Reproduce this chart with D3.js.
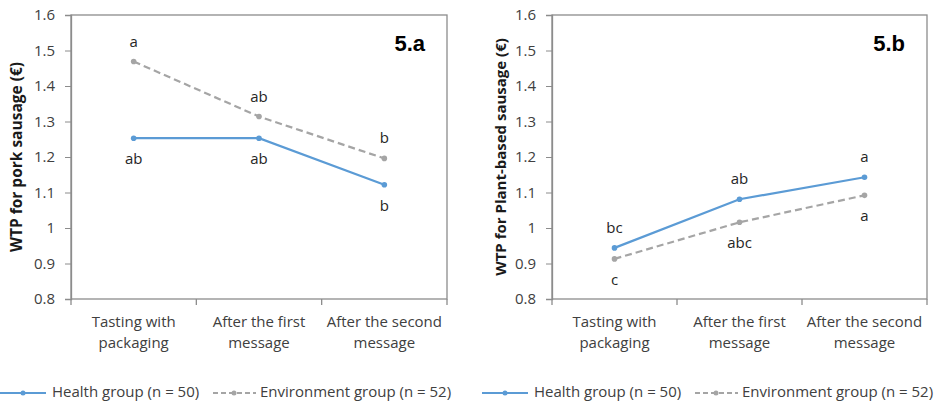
<!DOCTYPE html>
<html>
<head>
<meta charset="utf-8">
<script src="https://cdn.jsdelivr.net/npm/d3@7"></script>
<style>
  body { margin: 0; background: #fff; }
  text { font-family: "Open Sans", "Liberation Sans", sans-serif; }
</style>
</head>
<body>
<svg id="chart" width="936" height="407"></svg>
<script>
// categories (wrapped in two lines like the original)
const categories = [
    ["Tasting with", "packaging"],
    ["After the first", "message"],
    ["After the second", "message"]
];
const yTicks = [0.8, 0.9, 1, 1.1, 1.2, 1.3, 1.4, 1.5, 1.6];

// 5.a pork sausage
const porkHealth = [1.253, 1.253, 1.122];
const porkEnv = [1.469, 1.314, 1.196];
const porkHealthLetters = ["ab", "ab", "b"];
const porkEnvLetters = ["a", "ab", "b"];

// 5.b plant-based sausage
const plantHealth = [0.944, 1.081, 1.143];
const plantEnv = [0.913, 1.016, 1.092];
const plantHealthLetters = ["bc", "ab", "a"];
const plantEnvLetters = ["c", "abc", "a"];

const legendLabels = ["Health group (n = 50)", "Environment group (n = 52)"];

const blue = "#5b9bd5", grey = "#a5a5a5", axisCol = "#8c8c8c", txt = "#404040";

const svg = d3.select("#chart");

function panel(opts) {
    const g = svg.append("g");
    const x = d3.scaleBand().domain(d3.range(categories.length)).range([opts.x0, opts.x1]).padding(0);
    const y = d3.scaleLinear().domain([0.8, 1.6]).range([299, 15]);

    // plot frame
    g.append("rect")
        .attr("x", opts.x0).attr("y", y(1.6))
        .attr("width", opts.x1 - opts.x0).attr("height", y(0.8) - y(1.6))
        .attr("fill", "none").attr("stroke", axisCol).attr("stroke-width", 1.3);

    // y axis
    const yAxis = g.append("g")
        .attr("transform", `translate(${opts.x0},0)`)
        .call(d3.axisLeft(y).tickValues(yTicks).tickSize(6).tickPadding(10).tickFormat(d3.format("")));
    yAxis.select(".domain").attr("stroke", axisCol).attr("stroke-width", 1.3);
    yAxis.selectAll(".tick line").attr("stroke", axisCol);
    yAxis.selectAll(".tick text").attr("fill", txt).style("font-size", "15px")
        .style("font-family", "'Open Sans', sans-serif");

    // x axis: boundary ticks between categories
    const bounds = d3.range(categories.length + 1).map(i => opts.x0 + i * x.bandwidth());
    g.selectAll(".xt").data(bounds).enter().append("line")
        .attr("x1", d => d).attr("x2", d => d)
        .attr("y1", y(0.8)).attr("y2", y(0.8) + 6)
        .attr("stroke", axisCol).attr("stroke-width", 1.3);

    const cx = i => x(i) + x.bandwidth() / 2;
    g.selectAll(".cat").data(categories).enter().append("text")
        .attr("x", (d, i) => cx(i))
        .attr("y", 327)
        .attr("text-anchor", "middle")
        .attr("fill", txt)
        .style("font-size", "15px")
        .each(function (d) {
            d3.select(this).selectAll("tspan").data(d).enter().append("tspan")
                .attr("x", d3.select(this).attr("x"))
                .attr("dy", (t, j) => j === 0 ? 0 : 21)
                .text(t => t);
        });

    // y title
    g.append("text")
        .attr("transform", `translate(${opts.titleX},${(y(0.8) + y(1.6)) / 2}) rotate(-90)`)
        .attr("text-anchor", "middle")
        .attr("dominant-baseline", "middle")
        .style("font-size", opts.titleSize)
        .style("font-weight", "bold")
        .attr("fill", "#1a1a1a")
        .text(opts.title);

    // panel tag
    g.append("text")
        .attr("x", opts.x1 - 22).attr("y", 51)
        .attr("text-anchor", "end")
        .style("font-family", "'Liberation Sans', Arial, sans-serif")
        .style("font-size", "22px").style("font-weight", "bold")
        .attr("fill", "#000")
        .text(opts.tag);

    const line = d3.line().x((d, i) => cx(i)).y(d => y(d));

    // environment (dashed grey)
    g.append("path").datum(opts.env)
        .attr("d", line).attr("fill", "none")
        .attr("stroke", grey).attr("stroke-width", 2.2).attr("stroke-dasharray", "7,4");
    g.selectAll(".pe").data(opts.env).enter().append("circle")
        .attr("cx", (d, i) => cx(i)).attr("cy", d => y(d)).attr("r", 2.8).attr("fill", grey);

    // health (solid blue)
    g.append("path").datum(opts.health)
        .attr("d", line).attr("fill", "none")
        .attr("stroke", blue).attr("stroke-width", 2.2);
    g.selectAll(".ph").data(opts.health).enter().append("circle")
        .attr("cx", (d, i) => cx(i)).attr("cy", d => y(d)).attr("r", 2.8).attr("fill", blue);

    // significance letters
    const letter = (vals, letters, above) => {
        g.selectAll(null).data(vals).enter().append("text")
            .attr("x", (d, i) => cx(i))
            .attr("y", d => y(d) + (above ? -19 : 22))
            .attr("text-anchor", "middle")
            .attr("dominant-baseline", "middle")
            .attr("fill", "#262626")
            .style("font-size", "15px")
            .text((d, i) => letters[i]);
    };
    letter(opts.health, opts.healthLetters, opts.healthAbove);
    letter(opts.env, opts.envLetters, !opts.healthAbove);

    // legend
    const ly = 393;
    const lg = g.append("g");
    lg.append("line").attr("x1", opts.legX).attr("x2", opts.legX + 46).attr("y1", ly).attr("y2", ly)
        .attr("stroke", blue).attr("stroke-width", 2.2);
    lg.append("circle").attr("cx", opts.legX + 23).attr("cy", ly).attr("r", 2.5).attr("fill", blue);
    lg.append("text").attr("x", opts.legX + 52).attr("y", ly).attr("dominant-baseline", "middle")
        .attr("fill", txt).style("font-size", "15px").text(legendLabels[0]);
    lg.append("line").attr("x1", opts.legX + 213).attr("x2", opts.legX + 256).attr("y1", ly).attr("y2", ly)
        .attr("stroke", grey).attr("stroke-width", 2.2).attr("stroke-dasharray", "5,3");
    lg.append("circle").attr("cx", opts.legX + 234).attr("cy", ly).attr("r", 2.5).attr("fill", grey);
    lg.append("text").attr("x", opts.legX + 260).attr("y", ly).attr("dominant-baseline", "middle")
        .attr("fill", txt).style("font-size", "15px").text(legendLabels[1]);
}

panel({
    x0: 71, x1: 447, titleX: 18, tag: "5.a", legX: 0,
    title: "WTP for pork  sausage (€)", titleSize: "15.5px",
    health: porkHealth, env: porkEnv,
    healthLetters: porkHealthLetters, envLetters: porkEnvLetters, healthAbove: false
});
panel({
    x0: 552, x1: 927, titleX: 502, tag: "5.b", legX: 482,
    title: "WTP for Plant-based sausage (€)", titleSize: "15px",
    health: plantHealth, env: plantEnv,
    healthLetters: plantHealthLetters, envLetters: plantEnvLetters, healthAbove: true
});
</script>
</body>
</html>
